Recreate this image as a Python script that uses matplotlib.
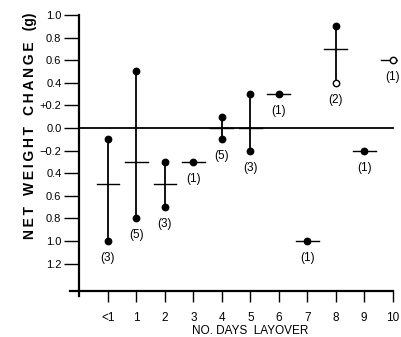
import matplotlib
matplotlib.use("Agg")
import matplotlib.pyplot as plt

# ---- data ----
day_labels = ['<1', '1', '2', '3', '4', '5', '6', '7', '8', '9', '10']
upper = [-0.1, 0.5, -0.3, -0.3, 0.1, 0.3, 0.3, -1.0, 0.9, -0.2, 0.6]
lower = [-1.0, -0.8, -0.7, -0.3, -0.1, -0.2, 0.3, -1.0, 0.4, -0.2, 0.6]
mean = [-0.5, -0.3, -0.5, -0.3, 0.0, 0.0, 0.3, -1.0, 0.7, -0.2, 0.6]
counts = [3, 5, 3, 1, 5, 3, 1, 1, 2, 1, 1]
upper_open = [False, False, False, False, False, False, False, False, False, False, True]
lower_open = [False, False, False, False, False, False, False, False, True, False, True]
ytick_vals = [1.0, 0.8, 0.6, 0.4, 0.2, 0.0, -0.2, -0.4, -0.6, -0.8, -1.0, -1.2]
ytick_text = ['1.0', '0.8', '0.6', '0.4', '+0.2', '0.0', '\u22120.2', '0.4', '0.6', '0.8', '1.0', '1.2']

plt.rcParams['font.family'] = ['Liberation Sans', 'DejaVu Sans']

fig = plt.figure(figsize=(4.02, 3.37), dpi=100)
ax = fig.add_axes([0.1694, 0.1172, 0.991 - 0.1694, 0.9623 - 0.1172])
ax.set_xlim(-1.4, 10.2)
ax.set_ylim(-1.5, 1.02)

x = list(range(len(day_labels)))
hw = 0.4
for i in x:
    ax.plot([i, i], [lower[i], upper[i]], color='black', lw=1.3, zorder=2)
    ax.plot([i - hw, i + hw], [mean[i], mean[i]], color='black', lw=1.0, zorder=2)
    pts = [(upper[i], upper_open[i])]
    if counts[i] > 1:
        pts.append((lower[i], lower_open[i]))
    for yv, op in pts:
        ax.plot([i], [yv], marker='o', ms=4.6, mec='black', mew=1.0,
                mfc='white' if op else 'black', zorder=3)
    ax.annotate('(%d)' % counts[i], xy=(i, lower[i]), xytext=(0, -17),
                textcoords='offset pixels', ha='center', va='center', fontsize=8.5)

# zero line
ax.plot([-1, 10], [0, 0], color='black', lw=1.3, zorder=1)

for s in ['top', 'right']:
    ax.spines[s].set_visible(False)
ax.spines['left'].set_position(('data', -1))
ax.spines['left'].set_bounds(-1.49, 1.0)
ax.spines['left'].set_linewidth(1.6)
ax.spines['bottom'].set_position(('data', -1.44))
ax.spines['bottom'].set_bounds(-1.35, 10)
ax.spines['bottom'].set_linewidth(1.6)

ax.set_yticks(ytick_vals)
ax.set_yticklabels(ytick_text, fontsize=8)
ax.tick_params(axis='y', direction='out', length=11, width=1.0, pad=2)
ax.set_xticks(x)
ax.set_xticklabels(day_labels, fontsize=8.5)
ax.tick_params(axis='x', direction='out', length=8, width=1.0, pad=7)

# axis titles
fig.text(250 / 402, 1 - 330.5 / 337, 'NO. DAYS  LAYOVER', fontsize=8.5,
         ha='center', va='center')
ylab = '\u2009'.join('NET') + '\u2009\u2009\u2009\u2009' + '\u2009'.join('WEIGHT') + \
    '\u2009\u2009\u2009\u2009' + '\u2009'.join('CHANGE') + '\u2009\u2009\u2009\u2009(g)'
fig.text(30 / 402, 1 - 126 / 337, ylab, fontsize=10, fontweight='bold',
         rotation=90, ha='center', va='center')

fig.savefig('out.png', dpi=100)
